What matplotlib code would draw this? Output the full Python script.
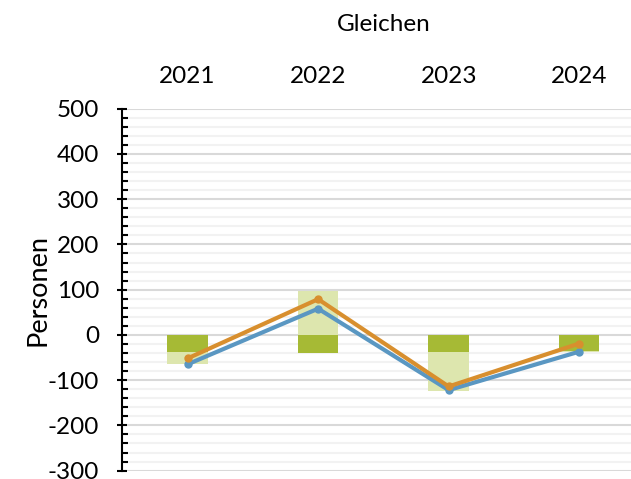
import numpy as np
import matplotlib.pyplot as plt
from matplotlib.ticker import MultipleLocator

# data
years = ["2021", "2022", "2023", "2024"]
dark_bar = [-38, -39, -38, -35]
light_bar = [-27, 97, -86, -3]
line_blue = [-65, 58, -122, -37]
line_orange = [-52, 79, -114, -19]

plt.rcParams['font.family'] = ['Lato', 'DejaVu Sans']
plt.rcParams['axes.unicode_minus'] = False

fig = plt.figure(figsize=(6.31, 4.79), dpi=100)
# plot area runs past the right edge of the picture, as in the original
ax = fig.add_axes([0.1938, 0.0175, 1.0214 - 0.1938, 0.7555])

x = np.arange(len(years))
dark = np.array(dark_bar)
light = np.array(light_bar)

# stacked bars: negatives stack below, positives above zero
light_bottom = np.where(light < 0, np.minimum(dark, 0), 0)
ax.bar(x, dark, width=0.31, color="#a6ba35", zorder=2)
ax.bar(x, light, width=0.31, bottom=light_bottom, color="#dde6ae", zorder=2)

ax.plot(x, line_blue, color="#5a97c2", lw=3, marker="o", ms=5, zorder=3)
ax.plot(x, line_orange, color="#d88f2e", lw=3, marker="o", ms=5, zorder=4)

ax.set_xlim(-0.5, 3.5)
ax.set_ylim(-300, 500)
ax.yaxis.set_major_locator(MultipleLocator(100))
ax.yaxis.set_minor_locator(MultipleLocator(20))
ax.grid(axis="y", which="major", color="#d9d9d9", lw=1.5, zorder=0)
ax.grid(axis="y", which="minor", color="#f2f2f2", lw=1.5, zorder=0)
ax.set_axisbelow(True)

for s in ["top", "right", "bottom"]:
    ax.spines[s].set_visible(False)
ax.spines["left"].set_linewidth(1.5)

ax.xaxis.tick_top()
ax.set_xticks(x)
ax.set_xticklabels(years)
ax.tick_params(axis="x", length=0, pad=16, labelsize=17.5)
ax.tick_params(axis="y", which="major", direction="inout", length=7, width=1.5, labelsize=17.5, pad=13)
ax.tick_params(axis="y", which="minor", direction="in", length=4, width=1.5)

ax.xaxis.set_label_position("top")
ax.set_xlabel("Gleichen", fontsize=17.5, labelpad=25)
ax.set_ylabel("Personen", fontsize=19.5, labelpad=-2)

plt.savefig("out.png", dpi=100)
